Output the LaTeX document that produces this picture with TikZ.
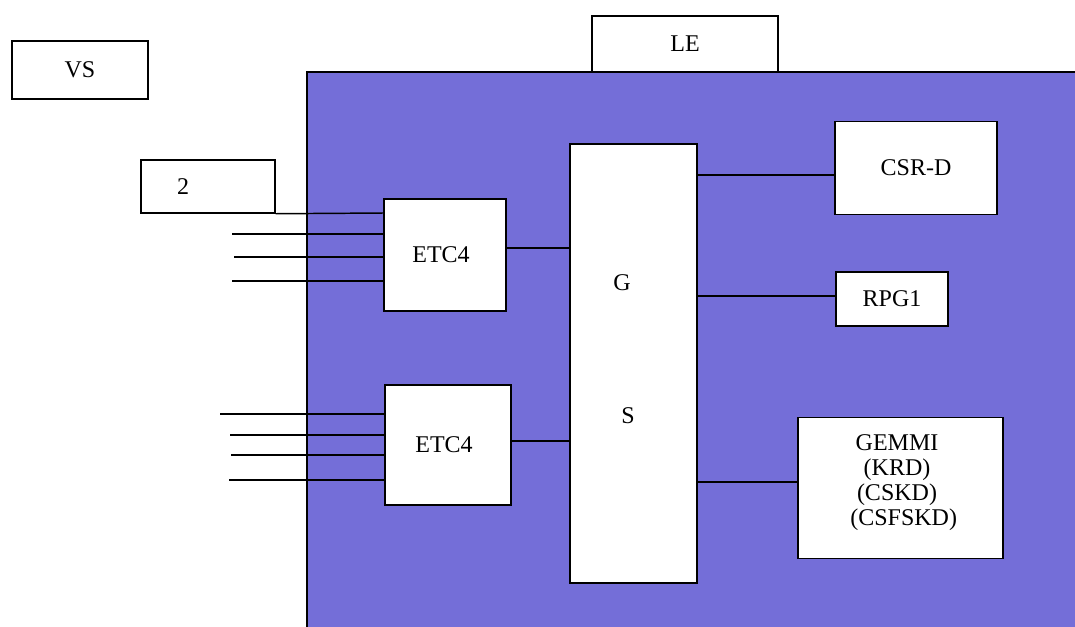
\documentclass[tikz,border=0pt]{standalone}
\usepackage{fontspec}
\setmainfont{Liberation Serif}
\definecolor{panelblue}{RGB}{116,110,216}
\newcommand{\lblfont}{\fontsize{18}{18.75}\selectfont}
\begin{document}
\begin{tikzpicture}[x=0.75pt,y=-0.75pt,
  box/.style={draw=black,line width=1.1pt,fill=white,inner sep=0pt,font=\lblfont,align=center},
  txt/.style={font=\lblfont,align=center},
  wire/.style={draw=black,line width=1.1pt}]
\useasboundingbox (0,0) rectangle (1075,626);
% panel
\fill[panelblue] (307,72) rectangle (1080,630);
\draw[line width=1.1pt] (307,630) -- (307,72) -- (1080,72);
% boxes
\node[box,minimum width=102pt,minimum height=43.5pt] (vs) at (80,70) {VS};
\node[box,minimum width=100.5pt,minimum height=39.75pt,
  label={[txt]center:\hspace*{-37.5pt}2}] (two) at (208,186.5) {};
\node[box,minimum width=139.5pt,minimum height=42pt] (le) at (685,44) {LE};
\node[box,minimum width=91.5pt,minimum height=84pt] (etc1) at (445,255) {\hspace*{-6pt}ETC4};
\node[box,minimum width=94.5pt,minimum height=90pt] (etc2) at (448,445) {\hspace*{-6pt}ETC4};
\node[box,minimum width=95.25pt,minimum height=329.25pt] (gs) at (633.5,363.5) {};
\node[txt] (g) at (622,283) {G};
\node[txt] (s) at (628,416) {S};
\node[box,minimum width=121.5pt,minimum height=69.75pt] (csrd) at (916,168) {CSR-D};
\node[box,minimum width=84pt,minimum height=40.5pt] (rpg) at (892,299) {RPG1};
\node[box,minimum width=153.75pt,minimum height=105.75pt,anchor=north] (gemmi) at (900.5,417) {};
\node[txt,anchor=north] (gemmitext) at (897,430) {GEMMI\\(KRD)\\(CSKD)\\\hspace*{10pt}(CSFSKD)};
% helper heights
\coordinate (h1) at (0,213);
\coordinate (h2) at (232,234);
\coordinate (h3) at (234,257);
\coordinate (h4) at (232,281);
\coordinate (b1) at (220,414);
\coordinate (b2) at (230,435);
\coordinate (b3) at (231,455);
\coordinate (b4) at (229,480);
\coordinate (c1) at (0,248);
\coordinate (c2) at (0,441);
\coordinate (c3) at (0,175);
\coordinate (c4) at (0,296);
\coordinate (c5) at (0,482);
% input wires
\draw[wire] (two.south east) -- (etc1.west |- h1);
\draw[wire] (h2) -- (etc1.west |- h2);
\draw[wire] (h3) -- (etc1.west |- h3);
\draw[wire] (h4) -- (etc1.west |- h4);
\draw[wire] (b1) -- (etc2.west |- b1);
\draw[wire] (b2) -- (etc2.west |- b2);
\draw[wire] (b3) -- (etc2.west |- b3);
\draw[wire] (b4) -- (etc2.west |- b4);
% links to GS
\draw[wire] (etc1.east |- c1) -- (gs.west |- c1);
\draw[wire] (etc2.east |- c2) -- (gs.west |- c2);
\draw[wire] (gs.east |- c3) -- (csrd.west |- c3);
\draw[wire] (gs.east |- c4) -- (rpg.west |- c4);
\draw[wire] (gs.east |- c5) -- (gemmi.west |- c5);
\end{tikzpicture}
\end{document}
